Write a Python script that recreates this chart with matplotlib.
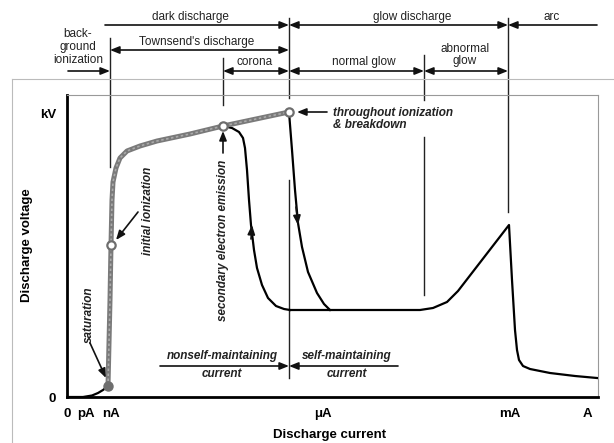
import matplotlib.pyplot as plt
from matplotlib.lines import Line2D

plt.rcParams['font.family'] = ['Liberation Sans', 'DejaVu Sans']

# schematic current axis (decades) and voltage axis
current_ticks = [0, 19, 44, 256, 443, 520]
current_labels = ['0', 'pA', 'nA', 'μA', 'mA', 'A']
voltage_ticks = [0, 284]
voltage_labels = ['0', 'kV']

# foot of the curve up to saturation
base_x = [0, 16, 25, 31, 36, 41]
base_y = [0, 0, 1.5, 4, 7, 11]

# dark discharge branch (gray)
dark_x = [41, 43, 44, 45, 46, 49, 53, 60, 73, 90, 123, 156, 222]
dark_y = [11, 97, 152, 197, 215, 229, 239, 246, 251, 256, 263, 271, 285]

# branch from the corona point down to normal glow
corona_x = [156, 165, 172, 176, 178, 180, 182, 184, 187, 190, 195, 201, 209, 217, 223]
corona_y = [271, 269, 265, 259, 249, 227, 197, 172, 147, 129, 112, 99, 91, 88, 87]

# branch from the breakdown point down to normal glow
breakdown_x = [222, 225, 228, 231, 235, 241, 250, 257, 263]
breakdown_y = [285, 247, 207, 174, 150, 125, 104, 93, 87]

# normal glow, abnormal glow and arc
glow_x = [223, 263, 353, 366, 380, 391, 442, 445, 448, 450, 452, 456, 463, 483, 508, 530]
glow_y = [87, 87, 87, 89, 95, 106, 172, 117, 67, 47, 37, 31, 28, 24, 21, 19]

# marked points
saturation_x, saturation_y = 41, 11
open_x = [44, 156, 222]
open_y = [152, 271, 285]

# region boundaries on the current axis
b_nA, b_corona, b_breakdown, b_abnormal, b_arc = 43, 156, 222, 357, 441

fig = plt.figure(figsize=(6.14, 4.43), dpi=100)
ax = fig.add_axes([67/614, 46/443, 531/614, 302/443])
ax.set_xlim(0, 531)
ax.set_ylim(0, 302)

for s in ['left', 'bottom']:
    ax.spines[s].set_linewidth(2)
for s in ['top', 'right']:
    ax.spines[s].set_linewidth(0.8)
    ax.spines[s].set_color('#999999')

ax.set_xticks(current_ticks)
ax.set_xticklabels(current_labels, fontweight='bold', fontsize=9.5)
ax.set_yticks(voltage_ticks)
ax.set_yticklabels(voltage_labels, fontweight='bold', fontsize=9.5)
ax.tick_params(axis='x', length=0, pad=8)
ax.tick_params(axis='y', length=0, pad=8)

ax.set_xlabel('Discharge current', fontweight='bold', fontsize=9.5, va='center')
ax.xaxis.set_label_coords(0.495, -0.126)
ax.set_ylabel('Discharge voltage', fontweight='bold', fontsize=9.5, va='center')
ax.yaxis.set_label_coords(-0.075, 0.503)

# curves
ax.plot(base_x, base_y, color='black', lw=1.6, zorder=3)
ax.plot(corona_x, corona_y, color='black', lw=1.6, zorder=3)
ax.plot(breakdown_x, breakdown_y, color='black', lw=1.6, zorder=3)
ax.plot(glow_x, glow_y, color='black', lw=1.6, zorder=3)
ax.plot(dark_x, dark_y, color='#7a7a7a', lw=3.6, solid_capstyle='round', zorder=4)
ax.plot(dark_x, dark_y, color='#aaaaaa', lw=1.2, ls=(0, (1.5, 1.5)), zorder=4)
ax.plot(saturation_x, saturation_y, 'o', ms=6.5, color='#6e6e6e', zorder=5)
ax.plot(open_x, open_y, 'o', ms=6, mfc='white', mec='#6e6e6e', mew=1.6, zorder=5)

head = '-|>,head_length=0.55,head_width=0.22'
both = '<|-|>,head_length=0.55,head_width=0.22'
aprops = dict(arrowstyle=head, color='#111111', lw=1.2, shrinkA=0, shrinkB=0)
bprops = dict(arrowstyle=both, color='#111111', lw=1.2, shrinkA=0, shrinkB=0)

# direction arrows on the curves
ax.annotate('', xy=(185, 172), xytext=(184, 158), arrowprops=aprops)
ax.annotate('', xy=(231, 172), xytext=(229, 190), arrowprops=aprops)

# boundary lines
vlines = [
    (b_nA, 359, 230),
    (b_corona, 339, 292),
    (b_breakdown, 379, 299),
    (b_breakdown, 217, 19),
    (b_abnormal, 342, 297),
    (b_abnormal, 260, 102),
    (b_arc, 379, 185),
]
for x, y0, y1 in vlines:
    ax.plot([x, x], [y0, y1], color='#222222', lw=1.0, clip_on=False)

# region arrows above the plot
ax.annotate('', xy=(b_breakdown, 372), xytext=(38, 372), arrowprops=aprops, annotation_clip=False)
ax.annotate('', xy=(b_breakdown, 372), xytext=(b_arc, 372), arrowprops=bprops, annotation_clip=False)
ax.annotate('', xy=(b_arc, 372), xytext=(530, 372), arrowprops=aprops, annotation_clip=False)
ax.annotate('', xy=(b_nA, 347), xytext=(b_breakdown, 347), arrowprops=bprops, annotation_clip=False)
ax.annotate('', xy=(b_nA, 326), xytext=(1, 326), arrowprops=aprops, annotation_clip=False)
ax.annotate('', xy=(b_corona, 326), xytext=(b_breakdown, 326), arrowprops=bprops, annotation_clip=False)
ax.annotate('', xy=(b_breakdown, 326), xytext=(b_abnormal, 326), arrowprops=bprops, annotation_clip=False)
ax.annotate('', xy=(b_abnormal, 326), xytext=(b_arc, 326), arrowprops=bprops, annotation_clip=False)

top_kw = dict(fontsize=8.5, color='#222222', ha='center', va='center')
ax.text(123, 380, 'dark discharge', **top_kw)
ax.text(345, 380, 'glow discharge', **top_kw)
ax.text(485, 380, 'arc', **top_kw)
ax.text(130, 355, "Townsend's discharge", **top_kw)
ax.text(11, 350, 'back-\nground\nionization', linespacing=1.1, **top_kw)
ax.text(188, 335, 'corona', **top_kw)
ax.text(297, 335, 'normal glow', **top_kw)
ax.text(398, 342, 'abnormal\nglow', linespacing=1.1, **top_kw)

# annotations inside the plot
note_kw = dict(fontsize=8.5, fontweight='bold', style='italic', color='#222222',
               ha='center', va='center')
ax.text(22, 82, 'saturation', rotation=90, **note_kw)
ax.annotate('', xy=(39, 19), xytext=(23, 54), arrowprops=aprops)
ax.text(81, 186, 'initial ionization', rotation=90, **note_kw)
ax.annotate('', xy=(49, 157), xytext=(71, 185), arrowprops=aprops)
ax.text(156, 157, 'secondary electron emission', rotation=90, **note_kw)
ax.annotate('', xy=(156, 266), xytext=(156, 244), arrowprops=aprops)
ax.text(266, 278, 'throughout ionization\n& breakdown', linespacing=1.1,
        **{**note_kw, 'ha': 'left'})
ax.annotate('', xy=(230, 285), xytext=(260, 285), arrowprops=aprops)

ax.text(155, 41, 'nonself-maintaining', **note_kw)
ax.text(155, 23, 'current', **note_kw)
ax.annotate('', xy=(b_breakdown, 31), xytext=(93, 31), arrowprops=aprops)
ax.text(280, 41, 'self-maintaining', **note_kw)
ax.text(280, 23, 'current', **note_kw)
ax.annotate('', xy=(b_breakdown, 31), xytext=(331, 31), arrowprops=aprops)

# light frame around the lower panel
fig.add_artist(Line2D([12/614, 1], [1 - 79/443, 1 - 79/443], color='#bbbbbb', lw=0.8))
fig.add_artist(Line2D([12/614, 12/614], [0, 1 - 79/443], color='#bbbbbb', lw=0.8))

fig.savefig('out.png', dpi=100, facecolor='white')
